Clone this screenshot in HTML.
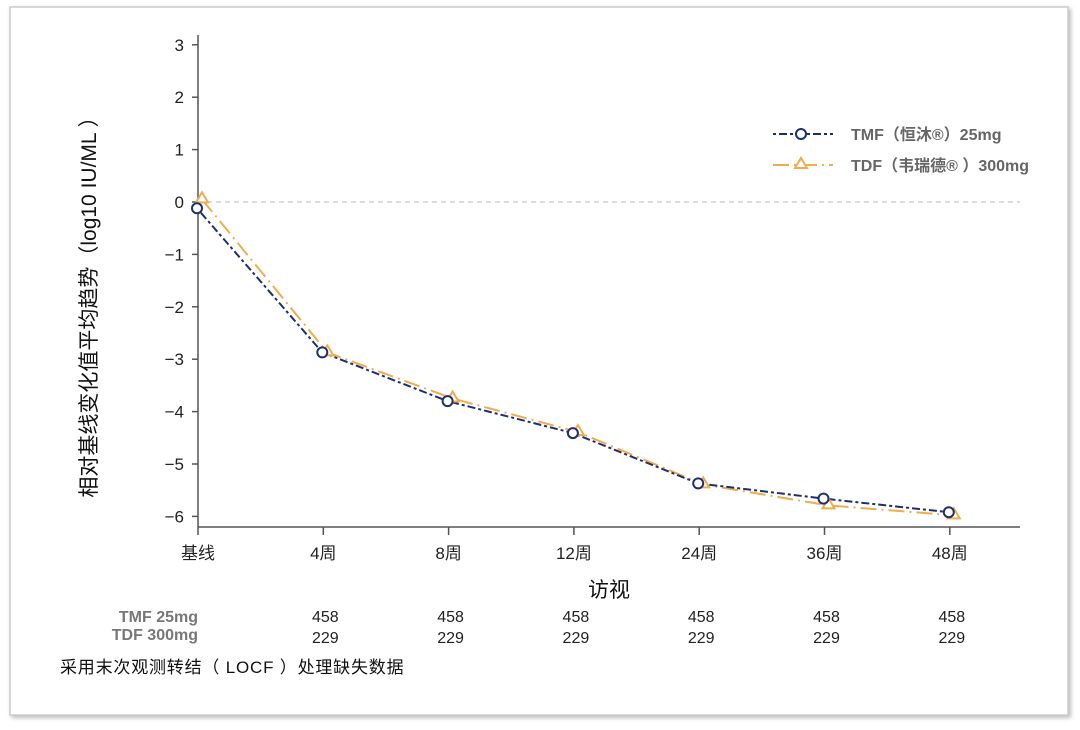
<!DOCTYPE html>
<html><head><meta charset="utf-8"><style>
body{margin:0;width:1080px;height:730px;background:#fff;overflow:hidden}
svg{display:block;font-family:"Liberation Sans","Noto Sans CJK SC",sans-serif}
</style></head><body>
<svg width="1080" height="730">
<defs><filter id="sh" x="-5%" y="-5%" width="110%" height="110%"><feDropShadow dx="2" dy="2" stdDeviation="2" flood-color="#888" flood-opacity="0.6"/></filter></defs>
<rect x="10" y="7" width="1058" height="708" fill="#fff" stroke="#ccc" stroke-width="1.5" filter="url(#sh)"/>
<g id="axes"></g>
<g id="marks"></g>
<text x="0" y="0" transform="translate(96,302) rotate(-90)" text-anchor="middle" font-size="21" fill="#111">相对基线变化值平均趋势（log10 IU/ML ）</text>
<text x="609" y="597" text-anchor="middle" font-size="21" fill="#111">访视</text>
<g>
<g>
<line x1="773" y1="134" x2="833" y2="134" stroke="#1f2f6e" stroke-width="2" stroke-dasharray="3,3,8,3"/>
<circle cx="801" cy="134" r="5" fill="#fff" stroke="#1f2f6e" stroke-width="2"/>
<text x="851" y="140" font-size="16" font-weight="bold" fill="#666">TMF（恒沐®）25mg</text></g>
<g>
<line x1="773" y1="165" x2="833" y2="165" stroke="#f0ad4e" stroke-width="2" stroke-dasharray="16,5,2,5"/>
<path d="M801,158 L807,168 L795,168 Z" fill="#fff" stroke="#f0ad4e" stroke-width="2"/>
<text x="851" y="171" font-size="16" font-weight="bold" fill="#666">TDF（韦瑞德® ）300mg</text></g>
</g>
<g id="table" font-size="16"></g>
<text x="60" y="673" font-size="17" letter-spacing="0.8" fill="#111">采用末次观测转结（ LOCF ）处理缺失数据</text>
</svg>
<script>
const categories=["基线","4周","8周","12周","24周","36周","48周"];
const tmfValues=[-0.12,-2.87,-3.8,-4.41,-5.37,-5.66,-5.92];
const tdfValues=[0.05,-2.87,-3.75,-4.39,-5.39,-5.79,-5.98];
const yTicks=[3,2,1,0,-1,-2,-3,-4,-5,-6];
const tmfN=[458,458,458,458,458,458];
const tdfN=[229,229,229,229,229,229];
const NS="http://www.w3.org/2000/svg";
function X(i){return 198+i*125.3;}
function Y(v){return 202-v*52.4;}
function mk(t,a,p){const e=document.createElementNS(NS,t);for(const k in a)e.setAttribute(k,a[k]);p.appendChild(e);return e;}
const ax=document.getElementById('axes'),mg=document.getElementById('marks'),tb=document.getElementById('table');
let e=mk('line',{x1:198,y1:35,x2:198,y2:527,stroke:'#555','stroke-width':1.5},ax);


e=mk('line',{x1:198,y1:527,x2:1020,y2:527,stroke:'#555','stroke-width':1.5},ax);


e=mk('line',{x1:198,y1:Y(0),x2:1020,y2:Y(0),stroke:'#bbb','stroke-width':1,'stroke-dasharray':'5,4'},ax);


yTicks.forEach(v=>{
 mk('line',{x1:192,y1:Y(v),x2:198,y2:Y(v),stroke:'#555','stroke-width':1.5},ax);
 const t=mk('text',{x:184,y:Y(v)+6,'text-anchor':'end','font-size':17,fill:'#222'},ax);
 t.textContent=(v<0?'−':'')+Math.abs(v);
 
 
});
categories.forEach((c,i)=>{
 mk('line',{x1:X(i),y1:527,x2:X(i),y2:535,stroke:'#555','stroke-width':1.5},ax);
 const t=mk('text',{x:X(i),y:559,'text-anchor':'middle','font-size':17,fill:'#222'},ax);
 t.textContent=c;
 
 
});
tmfN.forEach((n,j)=>{
 const i=j+1;
 let a=mk('text',{x:X(i)+2,y:622,'text-anchor':'middle',fill:'#222'},tb);a.textContent=n;
 
 
 a=mk('text',{x:X(i)+2,y:643,'text-anchor':'middle',fill:'#222'},tb);a.textContent=tdfN[j];
 
 
});
let l=mk('text',{x:198,y:622,'text-anchor':'end','font-weight':'bold',fill:'#777'},tb);l.textContent='TMF 25mg';


l=mk('text',{x:198,y:640,'text-anchor':'end','font-weight':'bold',fill:'#777'},tb);l.textContent='TDF 300mg';


const tdfPts=tdfValues.map((v,i)=>[X(i)+4,Y(v)]);
const tmfPts=tmfValues.map((v,i)=>[X(i)-1,Y(v)]);
let p=mk('polyline',{points:tdfPts.map(q=>q.join(',')).join(' '),fill:'none',stroke:'#f0ad4e','stroke-width':2,'stroke-dasharray':'16,5,2,5'},mg);


p=mk('polyline',{points:tmfPts.map(q=>q.join(',')).join(' '),fill:'none',stroke:'#1f2f6e','stroke-width':2,'stroke-dasharray':'3,3,8,3'},mg);


tdfPts.forEach(([x,y])=>{
 const m=mk('path',{d:`M${x},${y-7} L${x+6},${y+3} L${x-6},${y+3} Z`,fill:'#fff',stroke:'#f0ad4e','stroke-width':2},mg);
 
 
});
tmfPts.forEach(([x,y])=>{
 const m=mk('circle',{cx:x,cy:y,r:5,fill:'#fff',stroke:'#1f2f6e','stroke-width':2},mg);
 
 
});
</script>
</body></html>
